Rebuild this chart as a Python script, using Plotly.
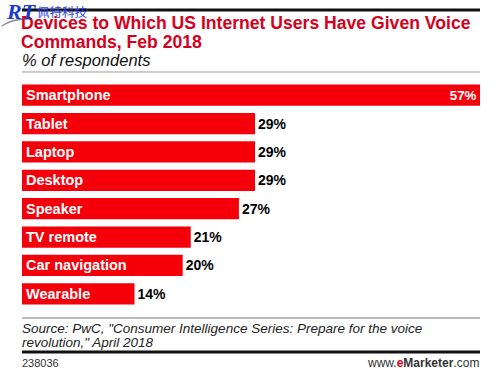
import plotly.graph_objects as go

categories = ["Smartphone", "Tablet", "Laptop", "Desktop", "Speaker", "TV remote", "Car navigation", "Wearable"]
values = [57, 29, 29, 29, 27, 21, 20, 14]
value_labels = [f"{v}%" for v in values]

W, H = 499, 374
L, R, T, B = 22, 19, 81, 66
PW = W - L - R
PH = H - T - B

def px(x):
    return (x - L) / PW

def py(y):
    return (H - B - y) / PH

BAR_RED = "#f5000a"
TITLE_RED = "#d6001c"

positions = ["inside" if v == max(values) else "outside" for v in values]

fig = go.Figure()
fig.add_trace(go.Bar(
    x=values, y=categories, orientation="h",
    marker=dict(color=BAR_RED, line=dict(width=0)),
    width=0.75,
    text=value_labels, textposition=positions,
    insidetextanchor="end",
    insidetextfont=dict(family="Liberation Sans", size=14, color="white"),
    outsidetextfont=dict(family="Liberation Sans", size=14, color="black"),
    texttemplate="<b>%{text}</b>",
    textangle=0,
    cliponaxis=False,
    hoverinfo="skip",
))

annotations = []
for c in categories:
    annotations.append(dict(
        x=0, y=c, xref="x", yref="y", xanchor="left", yanchor="middle",
        xshift=2, text=f"<b>{c}</b>", showarrow=False,
        font=dict(family="Liberation Sans", size=14.5, color="white"),
    ))

def text_ann(x, y, text, size, color="black", xanchor="left", family="Liberation Sans"):
    annotations.append(dict(
        x=px(x), y=py(y), xref="paper", yref="paper", xanchor=xanchor, yanchor="middle",
        text=text, showarrow=False, font=dict(family=family, size=size, color=color),
    ))

text_ann(19, 23, "<b>Devices to Which US Internet Users Have Given Voice</b>", 17.6, TITLE_RED)
text_ann(19, 42, "<b>Commands, Feb 2018</b>", 17.6, TITLE_RED)
text_ann(20, 60, "<i>% of respondents</i>", 16.5, "#111")
text_ann(20, 328, "<i>Source: PwC, \"Consumer Intelligence Series: Prepare for the voice</i>", 13.5, "#222")
text_ann(20, 342, "<i>revolution,\" April 2018</i>", 13.5, "#222")
text_ann(20, 363, "238036", 11, "#333")
text_ann(481, 363, "www.<b><span style='color:#e2001a'>e</span>Marketer</b>.com", 12, "#333", xanchor="right")
# watermark logo
text_ann(4, 11, "<i><b>RT</b></i>", 22, "#1a3ad6", family="Liberation Serif")
text_ann(35, 11, "佩特科技", 12.5, "#2b3fe0", family="Noto Sans CJK SC")

def hline(y, width, color, x0=22, x1=480):
    return dict(type="line", xref="paper", yref="paper", x0=px(x0), x1=px(x1),
                y0=py(y), y1=py(y), line=dict(color=color, width=width))

shapes = [
    hline(10, 3, "#111"),
    hline(72, 1, "#999"),
    hline(318, 1, "#777"),
    hline(352, 3, "#111"),
    dict(type="path", xref="paper", yref="paper",
         path=f"M {px(2)},{py(26)} Q {px(12)},{py(18)} {px(32)},{py(19)}",
         line=dict(color="#888", width=1.5)),
]

fig.update_layout(
    width=W, height=H,
    margin=dict(l=L, r=R, t=T, b=B),
    paper_bgcolor="white", plot_bgcolor="white",
    showlegend=False,
    bargap=0.25,
    xaxis=dict(range=[0, 57], visible=False, fixedrange=True),
    yaxis=dict(autorange="reversed", visible=False, fixedrange=True),
    annotations=annotations,
    shapes=shapes,
    uniformtext=dict(mode=False),
)

fig.write_html("out.html", config={"displayModeBar": False},
               post_script="document.body.style.margin='0';document.body.style.overflow='hidden';")
